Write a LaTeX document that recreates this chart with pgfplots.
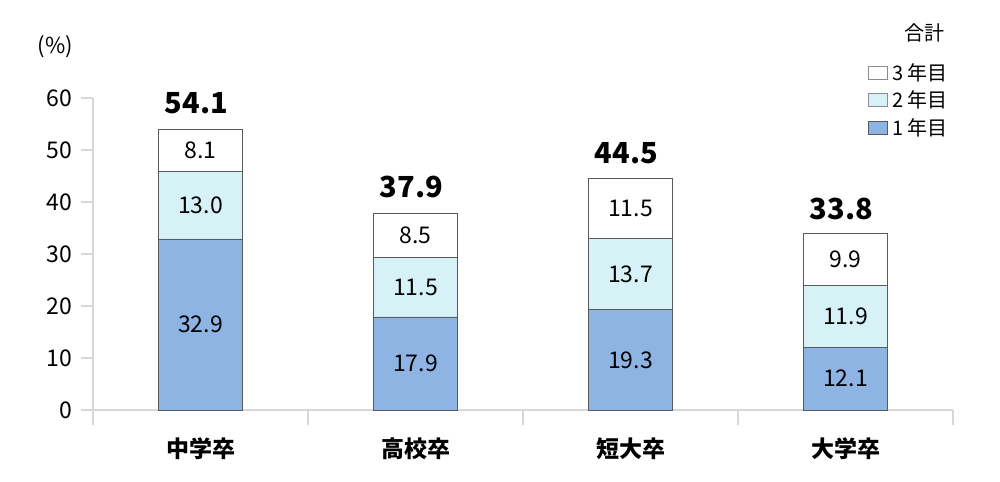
\documentclass[border=0pt]{standalone}
\usepackage{pgfplots}
\pgfplotsset{compat=1.18}
\usepackage{pgfplotstable}
\usepackage{fontspec}
\setmainfont{Noto Sans CJK JP}

\definecolor{yrone}{RGB}{142,180,228}
\definecolor{yrtwo}{RGB}{214,242,246}
\definecolor{barline}{RGB}{90,90,90}
\definecolor{axisgray}{RGB}{215,215,215}

% stacked values per school type (1st, 2nd, 3rd year)
\pgfplotstableread{
x y1 y2 y3 total
0 32.9 13.0 8.1 54.1
1 17.9 11.5 8.5 37.9
2 19.3 13.7 11.5 44.5
3 12.1 11.9 9.9 33.8
}\datatable

% segment labels at the middle of each segment
\pgfplotstableread{
x mid label
0 16.45 32.9
0 39.40 13.0
0 49.95 8.1
1 8.95 17.9
1 23.65 11.5
1 33.65 8.5
2 9.65 19.3
2 26.15 13.7
2 38.75 11.5
3 6.05 12.1
3 18.05 11.9
3 28.95 9.9
}\labtable

\pgfplotsset{
  base/.style={scale only axis, width=860bp, height=312bp,
    xmin=-0.5, xmax=3.5, ymin=0, ymax=60},
  seg/.style={draw=barline, line width=0.8bp, fill=#1},
}

\begin{document}
\begin{tikzpicture}
\begin{axis}[
    base, name=ax,
    ybar stacked, bar width=84bp,
    axis x line*=bottom, axis y line*=left,
    axis line style={axisgray, line width=1.3bp},
    tick style={axisgray, line width=1.3bp},
    tick align=outside,
    major tick length=12bp, minor tick length=15bp,
    ytick={0,10,...,60},
    xtick={0,1,2,3},
    xticklabels={中学卒,高校卒,短大卒,大学卒},
    minor xtick={-0.5,0.5,1.5,2.5,3.5},
    every major x tick/.append style={draw=none},
    /pgf/number format/assume math mode=true,
    yticklabel style={font=\fontsize{23bp}{27bp}\selectfont, xshift=-5bp},
    xticklabel style={font=\fontsize{23bp}{27bp}\selectfont\bfseries, yshift=-12bp},
    reverse legend,
    legend style={draw=none, fill=none, at={(0.897,1.124)}, anchor=north west,
      font=\fontsize{20bp}{23bp}\selectfont, row sep=5bp, column sep=3bp,
      cells={anchor=west}},
    clip=false,
]
\addplot[seg=yrone, legend image code/.code={\draw[fill=yrone, draw=barline, line width=0.8bp] (0bp,-6.5bp) rectangle (19bp,6.5bp);}] table[x=x, y=y1] {\datatable};
\addplot[seg=yrtwo, legend image code/.code={\draw[fill=yrtwo, draw=barline!70, line width=0.8bp] (0bp,-6.5bp) rectangle (19bp,6.5bp);}] table[x=x, y=y2] {\datatable};
\addplot[seg=white, legend image code/.code={\draw[fill=white, draw=barline!70, line width=0.8bp] (0bp,-6.5bp) rectangle (19bp,6.5bp);}] table[x=x, y=y3] {\datatable};
\legend{1 年目, 2 年目, 3 年目}

\node[font=\fontsize{20bp}{23bp}\selectfont] at (rel axis cs:0.967,1.208) {合計};
\node[font=\fontsize{22bp}{26bp}\selectfont] at (rel axis cs:-0.044,1.163) {(\%)};
\end{axis}

\begin{axis}[
    base, at={(ax.south west)}, anchor=south west,
    hide axis, clip=false,
]
\addplot[only marks, mark=none, point meta=explicit symbolic,
    nodes near coords,
    every node near coord/.append style={anchor=center, font=\fontsize{23bp}{27bp}\selectfont}]
    table[x=x, y=mid, meta=label] {\labtable};
\addplot[only marks, mark=none, point meta=explicit symbolic,
    nodes near coords,
    every node near coord/.append style={anchor=base, yshift=15bp, xshift=-4bp, font=\fontsize{29bp}{33bp}\selectfont\bfseries}]
    table[x=x, y=total, meta=total] {\datatable};
\end{axis}

\pgfresetboundingbox
\path[use as bounding box] ([xshift=-93bp,yshift=-72bp]ax.south west) rectangle ([xshift=47bp,yshift=98bp]ax.north east);
\end{tikzpicture}
\end{document}
